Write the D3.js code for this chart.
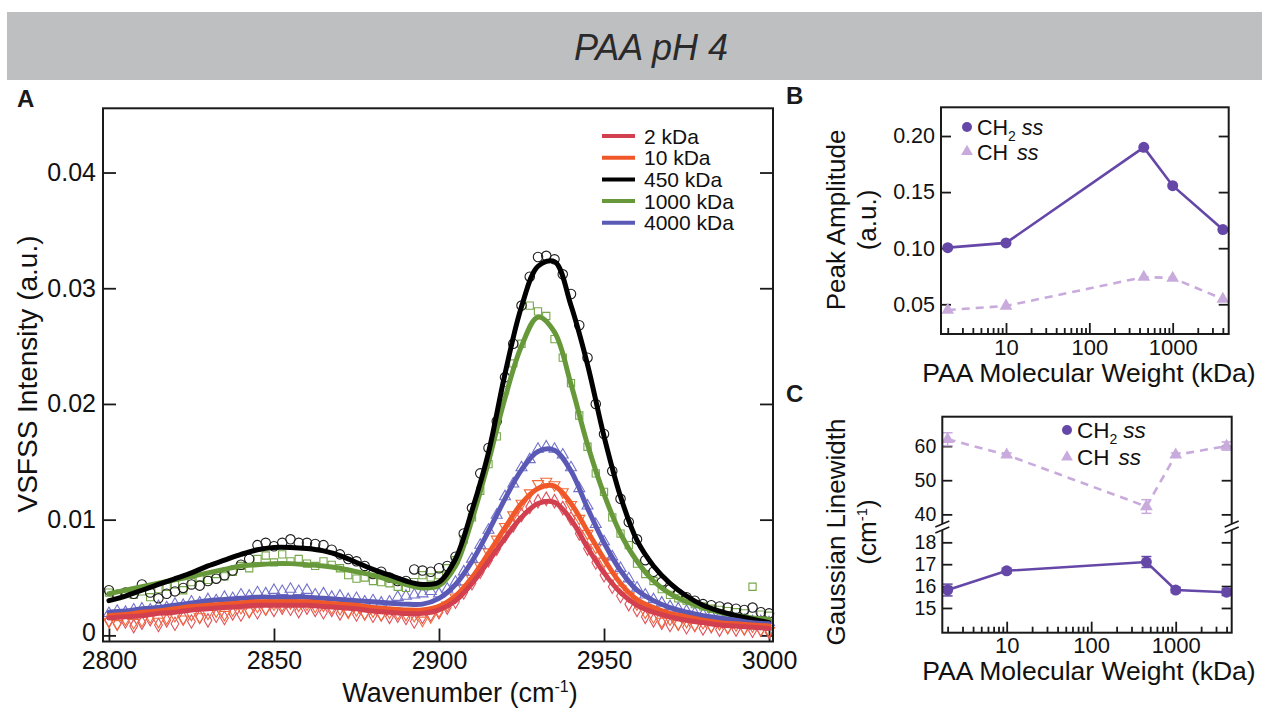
<!DOCTYPE html>
<html>
<head>
<meta charset="utf-8">
<script src="https://cdn.jsdelivr.net/npm/d3@7"></script>
<style>
  body { margin: 0; background: #fff; }
  svg { display: block; font-family: 'Liberation Sans', Arial, Helvetica, sans-serif; }
</style>
</head>
<body>
<div id="chart"></div>
<script>
// ---------- panel A data ----------
const fitWavenumbers = [2800, 2805, 2810, 2815, 2820, 2825, 2830, 2835, 2840, 2845, 2850, 2855, 2860, 2865,
  2870, 2875, 2880, 2885, 2890, 2895, 2900, 2905, 2910, 2915, 2920, 2925, 2930, 2935, 2940, 2945, 2950,
  2955, 2960, 2965, 2970, 2975, 2980, 2985, 2990, 2995, 3000];

const fit2 = [.0015, .0016, .0017, .0019, .0020, .0022, .0023, .0024, .0025, .0026, .0026, .0026, .0026, .0025,
  .0024, .0023, .0021, .0020, .0019, .0019, .0022, .0030, .0045, .0064, .0084, .0102, .0114, .0115, .0100,
  .0076, .0054, .0037, .0026, .0020, .0016, .0013, .0011, .0009, .0008, .0007, .0006];
const fit10 = [.0017, .0018, .0020, .0021, .0023, .0025, .0026, .0027, .0028, .0029, .0029, .0029, .0029, .0028,
  .0027, .0026, .0024, .0023, .0022, .0022, .0025, .0034, .0050, .0071, .0093, .0114, .0127, .0129, .0114,
  .0090, .0066, .0045, .0031, .0024, .0019, .0016, .0013, .0011, .0010, .0009, .0008];
const fit450 = [.0030, .0034, .0039, .0044, .0049, .0054, .0060, .0065, .0070, .0074, .0076, .0076, .0075, .0073,
  .0069, .0063, .0057, .0052, .0047, .0044, .0046, .0066, .0108, .0158, .0226, .0284, .0319, .0323, .0285,
  .0234, .0172, .0120, .0082, .0060, .0045, .0034, .0026, .0021, .0017, .0014, .0011];
const fit1000 = [.0036, .0039, .0042, .0045, .0048, .0051, .0054, .0057, .0060, .0061, .0062, .0062, .0061, .0060,
  .0058, .0055, .0052, .0048, .0044, .0041, .0043, .0060, .0100, .0150, .0205, .0250, .0275, .0262, .0217,
  .0165, .0122, .0088, .0064, .0047, .0036, .0029, .0024, .0020, .0017, .0015, .0014];
const fit4000 = [.0020, .0021, .0023, .0024, .0026, .0028, .0030, .0031, .0032, .0033, .0033, .0033, .0033, .0032,
  .0031, .0030, .0029, .0028, .0027, .0027, .0032, .0044, .0064, .0090, .0118, .0143, .0159, .0160, .0142,
  .0110, .0080, .0056, .0039, .0030, .0024, .0020, .0017, .0015, .0013, .0011, .0010];

const rawWavenumbers = [2800, 2802.5, 2805, 2807.5, 2810, 2812.5, 2815, 2817.5, 2820, 2822.5, 2825, 2827.5,
  2830, 2832.5, 2835, 2837.5, 2840, 2842.5, 2845, 2847.5, 2850, 2852.5, 2855, 2857.5, 2860, 2862.5, 2865,
  2867.5, 2870, 2872.5, 2875, 2877.5, 2880, 2882.5, 2885, 2887.5, 2890, 2892.5, 2895, 2897.5, 2900, 2902.5,
  2905, 2907.5, 2910, 2912.5, 2915, 2917.5, 2920, 2922.5, 2925, 2927.5, 2930, 2932.5, 2935, 2937.5, 2940,
  2942.5, 2945, 2947.5, 2950, 2952.5, 2955, 2957.5, 2960, 2962.5, 2965, 2967.5, 2970, 2972.5, 2975, 2977.5,
  2980, 2982.5, 2985, 2987.5, 2990, 2992.5, 2995, 2997.5, 3000];

const raw2 = [.0013, .0010, .0012, .0008, .0011, .0014, .0009, .0013, .0010, .0015, .0012, .0016, .0013, .0017,
  .0015, .0019, .0018, .0021, .0020, .0023, .0022, .0024, .0023, .0021, .0024, .0022, .0020, .0022, .0019,
  .0021, .0018, .0019, .0017, .0018, .0016, .0017, .0015, .0012, .0016, .0018, .0020, .0024, .0029, .0037,
  .0045, .0055, .0065, .0075, .0086, .0095, .0104, .0111, .0116, .0118, .0116, .0110, .0101, .0088, .0075,
  .0063, .0052, .0042, .0034, .0027, .0022, .0016, .0013, .0011, .0009, .0010, .0007, .0009, .0006, .0008,
  .0005, .0007, .0005, .0006, .0004, .0005, .0003];
const raw10 = [.0012, .0010, .0014, .0011, .0013, .0016, .0012, .0015, .0017, .0014, .0018, .0016, .0019, .0021,
  .0018, .0022, .0024, .0021, .0025, .0023, .0027, .0026, .0028, .0026, .0027, .0025, .0026, .0024, .0023,
  .0020, .0022, .0019, .0021, .0018, .0020, .0019, .0018, .0017, .0013, .0016, .0021, .0026, .0033, .0041,
  .0049, .0060, .0072, .0083, .0094, .0104, .0114, .0123, .0131, .0133, .0130, .0124, .0113, .0101, .0088,
  .0076, .0064, .0051, .0040, .0034, .0027, .0020, .0016, .0012, .0014, .0010, .0012, .0009, .0011, .0008,
  .0010, .0007, .0009, .0006, .0008, .0005, .0004];
const raw450 = [.0039, .0035, .0037, .0036, .0044, .0037, .0032, .0036, .0038, .0041, .0044, .0043, .0047, .0049,
  .0052, .0056, .0061, .0066, .0078, .0080, .0077, .0080, .0083, .0080, .0080, .0079, .0078, .0074, .0070,
  .0066, .0064, .0060, .0053, .0055, .0050, .0047, .0047, .0057, .0056, .0055, .0058, .0060, .0068, .0088,
  .0110, .0140, .0162, .0185, .0223, .0252, .0285, .0310, .0327, .0328, .0325, .0312, .0295, .0268, .0240,
  .0200, .0174, .0142, .0118, .0098, .0083, .0065, .0055, .0046, .0040, .0036, .0033, .0030, .0027, .0026,
  .0025, .0024, .0023, .0022, .0024, .0020, .0019];
const raw1000 = [.0037, .0034, .0036, .0035, .0038, .0033, .0040, .0042, .0044, .0039, .0046, .0050, .0048, .0053,
  .0051, .0055, .0060, .0058, .0066, .0069, .0063, .0070, .0064, .0066, .0062, .0060, .0064, .0061, .0058,
  .0052, .0049, .0050, .0047, .0046, .0045, .0042, .0041, .0046, .0052, .0050, .0052, .0058, .0065, .0083,
  .0102, .0125, .0148, .0172, .0212, .0235, .0252, .0285, .0280, .0276, .0256, .0240, .0218, .0190, .0163,
  .0140, .0124, .0102, .0088, .0078, .0062, .0053, .0047, .0040, .0035, .0032, .0030, .0027, .0025, .0023,
  .0022, .0021, .0020, .0019, .0042, .0018, .0017];
const raw4000 = [.0019, .0021, .0020, .0022, .0023, .0022, .0025, .0024, .0027, .0026, .0029, .0028, .0031, .0030,
  .0033, .0032, .0035, .0034, .0037, .0036, .0039, .0038, .0040, .0038, .0039, .0035, .0036, .0033, .0034,
  .0031, .0032, .0029, .0030, .0028, .0029, .0033, .0034, .0035, .0036, .0038, .0036, .0040, .0046, .0055,
  .0066, .0078, .0091, .0104, .0120, .0131, .0145, .0152, .0161, .0163, .0161, .0156, .0145, .0127, .0112,
  .0096, .0081, .0068, .0058, .0049, .0041, .0035, .0031, .0028, .0025, .0023, .0021, .0019, .0018, .0017,
  .0016, .0015, .0014, .0013, .0012, .0012, .0011];

const seriesNames = ['2 kDa', '10 kDa', '450 kDa', '1000 kDa', '4000 kDa'];
const yTicksA = [0, 0.01, 0.02, 0.03, 0.04];
const xTicksA = [2800, 2850, 2900, 2950, 3000];

// ---------- panels B and C data ----------
const molWeights = [2, 10, 450, 1000, 4000];
const ampCH2 = [0.1005, 0.1047, 0.1899, 0.1557, 0.1166];
const ampCH2Err = [0.0008, 0.0008, 0.0020, 0.0010, 0.0008];
const ampCH = [0.0449, 0.0485, 0.0743, 0.0734, 0.0547];
const widthCH2 = [15.82, 16.70, 17.10, 15.82, 15.72];
const widthCH2Err = [0.27, 0.12, 0.25, 0.12, 0.15];
const widthCH = [62.0, 57.4, 42.3, 57.4, 60.0];
const widthCHErr = [1.9, 0.6, 2.0, 0.6, 1.2];
const yTicksB = [0.05, 0.10, 0.15, 0.20];
const xMajorTicks = [10, 100, 1000];
const yTicksCUpper = [40, 50, 60];
const yTicksCLower = [15, 16, 17, 18];

// ---------- styling ----------
const lineColors = ['#d2404f', '#f0582a', '#000000', '#67993a', '#5a5ab6'];
const markColors = ['#e0525c', '#f26a3a', '#1c1c1c', '#76a74a', '#7272cc'];
const markTypes = [d3.symbolDiamond, d3.symbolTriangle, d3.symbolCircle, d3.symbolSquare, d3.symbolTriangle];
const markRotate = [0, 180, 0, 0, 0];
const ch2Color = '#6547a8';
const chColor = '#c8abdc';
const axisColor = '#1a1a1a';

const W = 1262, H = 714;
const svg = d3.select('#chart').append('svg').attr('width', W).attr('height', H);

// title band
svg.append('rect').attr('x', 7).attr('y', 12).attr('width', W - 7).attr('height', 68).attr('fill', '#bebfc1');
svg.append('text').attr('x', 651).attr('y', 60).attr('text-anchor', 'middle')
  .attr('font-size', 36).attr('font-style', 'italic').attr('fill', '#2a2a2a').text('PAA pH 4');

// panel letters
[['A', 17, 107], ['B', 786, 104], ['C', 786, 402]].forEach(([t, x, y]) => {
  svg.append('text').attr('x', x).attr('y', y).attr('font-size', 24).attr('font-weight', 'bold')
    .attr('fill', '#1a1a1a').text(t);
});

function styleAxis(g, fontSize) {
  g.select('.domain').remove();
  g.selectAll('.tick line').attr('stroke', axisColor).attr('stroke-width', 1.8);
  g.selectAll('.tick text').attr('fill', '#111').attr('font-size', fontSize)
    .attr('font-family', "'Liberation Sans', Arial, sans-serif");
}

// =============== Panel A ===============
const A = { left: 103, right: 773, top: 108.3, bottom: 641.5 };
const xA = d3.scaleLinear().domain([2798.2, 3001.2]).range([A.left, A.right]);
const yA = d3.scaleLinear().domain([-0.00053, 0.04555]).range([A.bottom, A.top]);

const gA = svg.append('g');
gA.append('g').attr('transform', `translate(${A.left},0)`)
  .call(d3.axisLeft(yA).tickValues(yTicksA).tickSizeInner(-13).tickSizeOuter(0).tickPadding(7)
    .tickFormat(d => d === 0 ? '0' : d3.format('.2f')(d)))
  .call(g => styleAxis(g, 25))
  .call(g => g.selectAll('.tick text').filter(d => d === 0).attr('dy', '0.22em'));
gA.append('g').attr('transform', `translate(${A.right},0)`)
  .call(d3.axisRight(yA).tickValues(yTicksA).tickSizeInner(-13).tickSizeOuter(0).tickFormat(''))
  .call(g => styleAxis(g, 25));
gA.append('g').attr('transform', `translate(0,${A.bottom})`)
  .call(d3.axisBottom(xA).tickValues(xTicksA).tickSizeInner(-13).tickSizeOuter(0).tickPadding(10)
    .tickFormat(d3.format('d')))
  .call(g => styleAxis(g, 25));

// raw data markers
const rawSets = [raw2, raw10, raw450, raw1000, raw4000];
const fitSets = [fit2, fit10, fit450, fit1000, fit4000];
const markOrder = [0, 1, 4, 3, 2];
markOrder.forEach(i => {
  const sym = d3.symbol().type(markTypes[i]).size(i === 2 ? 70 : 52);
  gA.append('g').selectAll('path')
    .data(rawWavenumbers.map((w, j) => ({ w, v: rawSets[i][j] })))
    .join('path')
    .attr('d', sym)
    .attr('transform', d => `translate(${xA(d.w)},${yA(d.v)}) rotate(${markRotate[i]})`)
    .attr('fill', 'none').attr('stroke', markColors[i]).attr('stroke-width', 1.1);
});

// fitted curves
const fitLine = d3.line().curve(d3.curveCatmullRom.alpha(0.5))
  .x((d, j) => xA(fitWavenumbers[j])).y(d => yA(d));
[3, 2, 4, 1, 0].forEach(i => {
  gA.append('path').datum(fitSets[i]).attr('d', fitLine)
    .attr('fill', 'none').attr('stroke', lineColors[i]).attr('stroke-width', 5)
    .attr('stroke-linejoin', 'round').attr('stroke-linecap', 'round');
});

gA.append('rect').attr('x', A.left).attr('y', A.top).attr('width', A.right - A.left).attr('height', A.bottom - A.top)
  .attr('fill', 'none').attr('stroke', axisColor).attr('stroke-width', 2);

// legend A
const legA = gA.append('g');
seriesNames.forEach((name, i) => {
  const y = 136 + i * 21.7;
  legA.append('line').attr('x1', 602).attr('x2', 635).attr('y1', y).attr('y2', y)
    .attr('stroke', lineColors[i]).attr('stroke-width', 4);
  legA.append('text').attr('x', 644).attr('y', y + 7.5).attr('font-size', 21).attr('fill', '#111').text(name);
});

// axis titles A
svg.append('text').attr('transform', 'translate(37,374) rotate(-90)').attr('text-anchor', 'middle')
  .attr('font-size', 28).attr('fill', '#111').text('VSFSS Intensity (a.u.)');
const xtA = svg.append('text').attr('x', 460).attr('y', 702).attr('text-anchor', 'middle')
  .attr('font-size', 27).attr('fill', '#111');
xtA.append('tspan').text('Wavenumber (cm');
xtA.append('tspan').attr('dy', -10).attr('font-size', 16).text('-1');
xtA.append('tspan').attr('dy', 10).text(')');

// =============== Panel B ===============
const B = { left: 941, right: 1228.7, top: 107.3, bottom: 334 };
const xB = d3.scaleLog().domain([1.66, 4700]).range([B.left, B.right]);
const yB = d3.scaleLinear().domain([0.0235, 0.2256]).range([B.bottom, B.top]);
const gB = svg.append('g');

function logXAxis(g, x, yPos) {
  const minors = x.ticks().filter(v => !xMajorTicks.includes(v));
  g.append('g').attr('transform', `translate(0,${yPos})`)
    .call(d3.axisBottom(x).tickValues(minors).tickSizeInner(-6).tickSizeOuter(0).tickFormat(''))
    .call(a => styleAxis(a, 22));
  g.append('g').attr('transform', `translate(0,${yPos})`)
    .call(d3.axisBottom(x).tickValues(xMajorTicks).tickSizeInner(-11).tickSizeOuter(0).tickPadding(5)
      .tickFormat(d3.format('d')))
    .call(a => styleAxis(a, 22));
}
logXAxis(gB, xB, B.bottom);
gB.append('g').attr('transform', `translate(${B.left},0)`)
  .call(d3.axisLeft(yB).tickValues(yTicksB).tickSizeInner(-10).tickSizeOuter(0).tickPadding(6)
    .tickFormat(d3.format('.2f')))
  .call(g => styleAxis(g, 21.5));
gB.append('g').attr('transform', `translate(${B.right},0)`)
  .call(d3.axisRight(yB).tickValues(yTicksB).tickSizeInner(-10).tickSizeOuter(0).tickFormat(''))
  .call(g => styleAxis(g, 22));

const lineB = d3.line().x((d, j) => xB(molWeights[j])).y(d => yB(d));
gB.append('path').datum(ampCH).attr('d', lineB).attr('fill', 'none').attr('stroke', chColor)
  .attr('stroke-width', 2.6).attr('stroke-dasharray', '8,6');
gB.append('path').datum(ampCH2).attr('d', lineB).attr('fill', 'none').attr('stroke', ch2Color)
  .attr('stroke-width', 2.6);
gB.selectAll('.errB').data(ampCH2).join('g').each(function (d, j) {
  const g = d3.select(this), x = xB(molWeights[j]);
  const e = ampCH2Err[j];
  g.append('line').attr('x1', x).attr('x2', x).attr('y1', yB(d - e)).attr('y2', yB(d + e))
    .attr('stroke', ch2Color).attr('stroke-width', 1.5);
  [d - e, d + e].forEach(v => g.append('line').attr('x1', x - 4).attr('x2', x + 4)
    .attr('y1', yB(v)).attr('y2', yB(v)).attr('stroke', ch2Color).attr('stroke-width', 1.5));
});
gB.selectAll('.ptCH2').data(ampCH2).join('circle')
  .attr('cx', (d, j) => xB(molWeights[j])).attr('cy', d => yB(d)).attr('r', 5.5).attr('fill', ch2Color);
gB.selectAll('.ptCH').data(ampCH).join('path')
  .attr('d', d3.symbol().type(d3.symbolTriangle).size(70))
  .attr('transform', (d, j) => `translate(${xB(molWeights[j])},${yB(d)})`).attr('fill', chColor);

gB.append('rect').attr('x', B.left).attr('y', B.top).attr('width', B.right - B.left).attr('height', B.bottom - B.top)
  .attr('fill', 'none').attr('stroke', axisColor).attr('stroke-width', 2);

function legendCH(g, x, y1, y2, fs) {
  g.append('circle').attr('cx', x).attr('cy', y1).attr('r', 5).attr('fill', ch2Color);
  const t1 = g.append('text').attr('x', x + 10).attr('y', y1 + 8).attr('font-size', fs).attr('fill', '#111');
  t1.append('tspan').text('CH');
  t1.append('tspan').attr('dy', 6).attr('font-size', 14).text('2');
  t1.append('tspan').attr('dy', -6).attr('dx', 6).attr('font-style', 'italic').text('ss');
  g.append('path').attr('d', d3.symbol().type(d3.symbolTriangle).size(60)())
    .attr('transform', `translate(${x},${y2})`).attr('fill', chColor);
  const t2 = g.append('text').attr('x', x + 10).attr('y', y2 + 8).attr('font-size', fs).attr('fill', '#111');
  t2.append('tspan').text('CH');
  t2.append('tspan').attr('dx', 9).attr('font-style', 'italic').text('ss');
}
legendCH(gB, 967, 127, 151.5, 21.5);

svg.append('text').attr('transform', 'translate(845,220) rotate(-90)').attr('text-anchor', 'middle')
  .attr('font-size', 26).attr('fill', '#111').text('Peak Amplitude');
svg.append('text').attr('transform', 'translate(876,220) rotate(-90)').attr('text-anchor', 'middle')
  .attr('font-size', 26).attr('fill', '#111').text('(a.u.)');
svg.append('text').attr('x', 1089).attr('y', 382).attr('text-anchor', 'middle')
  .attr('font-size', 26.5).attr('fill', '#111').text('PAA Molecular Weight (kDa)');

// =============== Panel C (broken y axis) ===============
const C = { left: 942.3, right: 1231.7, top: 416.7, bottom: 632.7, brk: 527 };
const xC = d3.scaleLog().domain([1.73, 4600]).range([C.left, C.right]);
const yCu = d3.scaleLinear().domain([36.3, 68.6]).range([C.brk, C.top]);
const yCl = d3.scaleLinear().domain([13.87, 18.7]).range([C.bottom, C.brk]);
const gC = svg.append('g');

logXAxis(gC, xC, C.bottom);
[[yCu, yTicksCUpper], [yCl, yTicksCLower]].forEach(([s, tv]) => {
  gC.append('g').attr('transform', `translate(${C.left},0)`)
    .call(d3.axisLeft(s).tickValues(tv).tickSizeInner(-10).tickSizeOuter(0).tickPadding(6)
      .tickFormat(d3.format('d')))
    .call(g => styleAxis(g, 19.5));
  gC.append('g').attr('transform', `translate(${C.right},0)`)
    .call(d3.axisRight(s).tickValues(tv).tickSizeInner(-10).tickSizeOuter(0).tickFormat(''))
    .call(g => styleAxis(g, 19.5));
});

function errorBars(g, vals, errs, scale, color) {
  vals.forEach((d, j) => {
    const x = xC(molWeights[j]);
    g.append('line').attr('x1', x).attr('x2', x).attr('y1', scale(d - errs[j])).attr('y2', scale(d + errs[j]))
      .attr('stroke', color).attr('stroke-width', 1.5);
    [d - errs[j], d + errs[j]].forEach(v => g.append('line').attr('x1', x - 5).attr('x2', x + 5)
      .attr('y1', scale(v)).attr('y2', scale(v)).attr('stroke', color).attr('stroke-width', 1.5));
  });
}
gC.append('path').datum(widthCH).attr('d', d3.line().x((d, j) => xC(molWeights[j])).y(d => yCu(d)))
  .attr('fill', 'none').attr('stroke', chColor).attr('stroke-width', 2.6).attr('stroke-dasharray', '8,6');
errorBars(gC, widthCH, widthCHErr, yCu, chColor);
gC.selectAll('.ptCHc').data(widthCH).join('path')
  .attr('d', d3.symbol().type(d3.symbolTriangle).size(70))
  .attr('transform', (d, j) => `translate(${xC(molWeights[j])},${yCu(d)})`).attr('fill', chColor);

gC.append('path').datum(widthCH2).attr('d', d3.line().x((d, j) => xC(molWeights[j])).y(d => yCl(d)))
  .attr('fill', 'none').attr('stroke', ch2Color).attr('stroke-width', 2.6);
errorBars(gC, widthCH2, widthCH2Err, yCl, ch2Color);
gC.selectAll('.ptCH2c').data(widthCH2).join('circle')
  .attr('cx', (d, j) => xC(molWeights[j])).attr('cy', d => yCl(d)).attr('r', 5.5).attr('fill', ch2Color);

gC.append('rect').attr('x', C.left).attr('y', C.top).attr('width', C.right - C.left).attr('height', C.bottom - C.top)
  .attr('fill', 'none').attr('stroke', axisColor).attr('stroke-width', 2);

// axis break marks
[C.left, C.right].forEach(x => {
  gC.append('rect').attr('x', x - 3).attr('y', C.brk - 3).attr('width', 6).attr('height', 6).attr('fill', '#fff');
  [-3, 3].forEach(o => gC.append('line').attr('x1', x - 7).attr('x2', x + 7)
    .attr('y1', C.brk + o + 3).attr('y2', C.brk + o - 3).attr('stroke', axisColor).attr('stroke-width', 1.6));
});

legendCH(gC, 1067, 430, 457, 22.5);

svg.append('text').attr('transform', 'translate(845,532) rotate(-90)').attr('text-anchor', 'middle')
  .attr('font-size', 26).attr('fill', '#111').text('Gaussian Linewidth');
const ytC = svg.append('text').attr('transform', 'translate(876,532) rotate(-90)').attr('text-anchor', 'middle')
  .attr('font-size', 26).attr('fill', '#111');
ytC.append('tspan').text('(cm');
ytC.append('tspan').attr('dy', -9).attr('font-size', 15).text('-1');
ytC.append('tspan').attr('dy', 9).text(')');
svg.append('text').attr('x', 1089).attr('y', 680).attr('text-anchor', 'middle')
  .attr('font-size', 26.5).attr('fill', '#111').text('PAA Molecular Weight (kDa)');
</script>
</body>
</html>
